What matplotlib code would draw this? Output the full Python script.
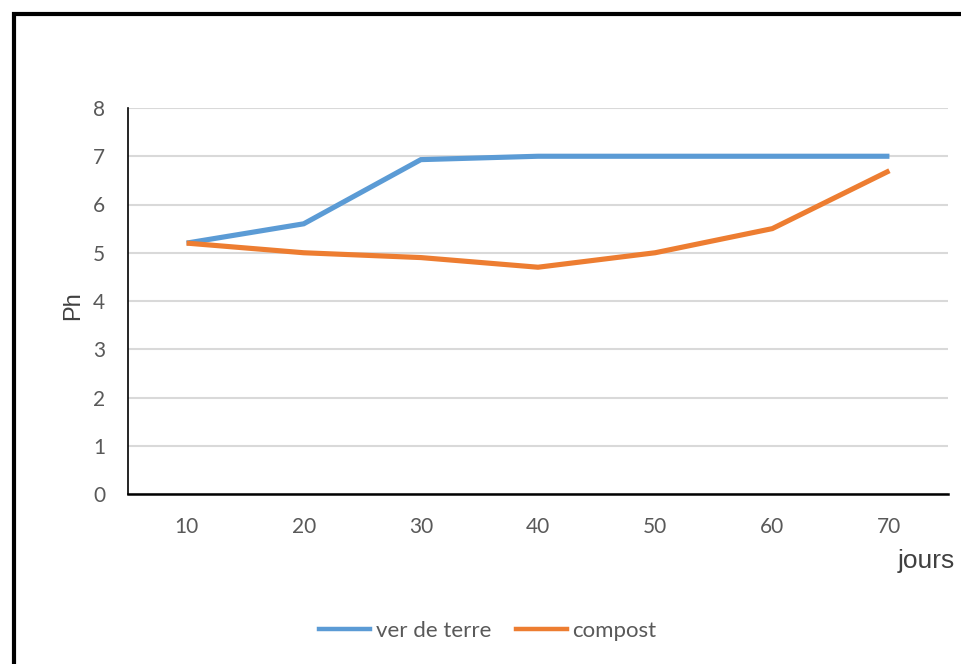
import matplotlib
matplotlib.use("Agg")
import matplotlib.pyplot as plt
from matplotlib.patches import Rectangle
from matplotlib.lines import Line2D

days = ["10", "20", "30", "40", "50", "60", "70"]
ver_de_terre = [5.2, 5.6, 6.93, 7.0, 7.0, 7.0, 7.0]
compost = [5.2, 5.0, 4.9, 4.7, 5.0, 5.5, 6.7]
yticks = [0, 1, 2, 3, 4, 5, 6, 7, 8]

plt.rcParams['font.family'] = ['Lato', 'DejaVu Sans']
txt = '#595959'

fig = plt.figure(figsize=(9.61, 6.64), dpi=100)
ax = fig.add_axes([128/961, 1-494/664, (948-128)/961, (494-108)/664])

x = list(range(len(days)))
ax.plot(x, ver_de_terre, color='#5B9BD5', lw=3.7, solid_capstyle='butt', solid_joinstyle='miter', label='ver de terre', zorder=3)
ax.plot(x, compost, color='#ED7D31', lw=3.7, solid_capstyle='butt', solid_joinstyle='miter', label='compost', zorder=3)

ax.set_xlim(-0.5, len(days)-0.5)
ax.set_ylim(0, 8)
ax.set_yticks(yticks)
ax.set_xticks(x)
ax.set_xticklabels(days)
ax.grid(axis='y', color='#D9D9D9', lw=1.5, zorder=0)
ax.set_axisbelow(True)
for s in ['top', 'right']:
    ax.spines[s].set_visible(False)
ax.spines['left'].set_color('#000000')
ax.spines['left'].set_linewidth(1.2)
ax.spines['bottom'].set_color('#000000')
ax.spines['bottom'].set_linewidth(1.8)
ax.tick_params(axis='both', length=0, labelsize=15, colors=txt)
ax.tick_params(axis='x', pad=16.5)
ax.tick_params(axis='y', pad=16.5)
for t in ax.get_xticklabels() + ax.get_yticklabels():
    t.set_color(txt)

fig.text(73/961, 1-306/664, 'Ph', rotation=90, ha='center', va='center', fontsize=17,
         color='#404040', family=['Liberation Sans', 'DejaVu Sans'])
fig.text(926/961, 1-561/664, 'jours', ha='center', va='center', fontsize=19,
         color='#404040', family=['Liberation Sans', 'DejaVu Sans'])

handles = [Line2D([], [], color='#5B9BD5', lw=3.2), Line2D([], [], color='#ED7D31', lw=3.2)]
fig.legend(handles, ['ver de terre', 'compost'], loc='center', bbox_to_anchor=(488/961, 1-631/664),
           ncol=2, frameon=False, fontsize=16, handlelength=2.3, handletextpad=0.25, columnspacing=1.1,
           labelcolor=txt)

fig.patches.append(Rectangle((14/961, -0.1), 1.2, 1-14/664+0.1, transform=fig.transFigure,
                             fill=False, edgecolor='black', lw=3.0, zorder=10))

fig.savefig('out.png', dpi=100, facecolor='white')
